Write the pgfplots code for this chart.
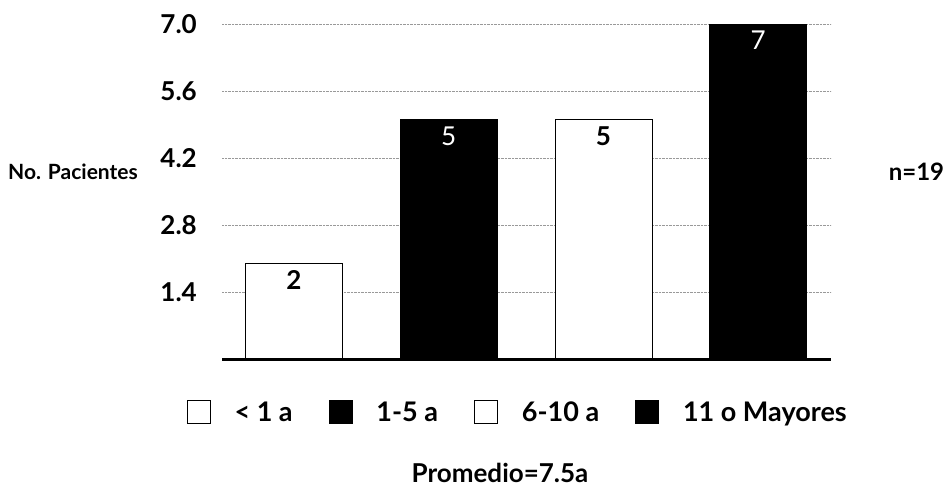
\documentclass[border=0pt]{standalone}
\usepackage{pgfplots}
\pgfplotsset{compat=1.18}
\usepackage{fontspec}
\setmainfont{Lato}

% patients per age group
\pgfplotstableread{
x y
0 2
}\groupA
\pgfplotstableread{
x y
1 5
}\groupB
\pgfplotstableread{
x y
2 5
}\groupC
\pgfplotstableread{
x y
3 7
}\groupD

\pgfplotsset{
  onebar/.style={ybar, bar width=97pt, bar shift=0pt, nodes near coords},
  whitebar/.style={onebar, fill=white, draw=black, line width=0.8pt,
    every node near coord/.append style={anchor=north, yshift=-3pt, text=black,
      font=\fontsize{26}{28}\selectfont\bfseries}},
  blackbar/.style={onebar, fill=black, draw=black, line width=0.8pt,
    every node near coord/.append style={anchor=north, yshift=-3pt, text=white,
      font=\fontsize{26}{28}\selectfont}},
}

\begin{document}
\begin{tikzpicture}[x=1pt,y=1pt]
\path[use as bounding box] (0,0) rectangle (952,488);
\begin{axis}[
  name=ax,
  at={(222pt,128.5pt)}, anchor=south west,
  scale only axis, width=609pt, height=335.5pt,
  xmin=-0.465, xmax=3.471, ymin=0, ymax=7,
  xtick=\empty,
  ytick={1.4,2.8,4.2,5.6,7.0},
  yticklabels={1.4,2.8,4.2,5.6,7.0},
  yticklabel style={font=\fontsize{26}{28}\selectfont\bfseries, inner sep=0pt, xshift=-25pt, anchor=east},
  major tick length=0pt,
  ymajorgrids, grid style={densely dotted, gray!80, line width=0.6pt},
  axis line style={draw=none},
  /pgf/number format/assume math mode=true,
  clip=false,
  legend columns=4,
  legend style={at={(0.484,-0.1565)}, anchor=center, draw=none, fill=none,
    font=\fontsize{27}{29}\selectfont\bfseries, inner sep=0pt,
    nodes={inner sep=0pt},
    /tikz/every odd column/.append style={column sep=24pt},
    /tikz/every even column/.append style={column sep=36pt}},
  legend image code/.code={\draw[#1, line width=0.8pt] (0pt,-11.5pt) rectangle (23pt,11.5pt);},
]
\addplot[whitebar] table {\groupA};
\addplot[blackbar] table {\groupB};
\addplot[whitebar] table {\groupC};
\addplot[blackbar] table {\groupD};
\legend{< 1 a, 1-5 a, 6-10 a, 11 o Mayores}
\end{axis}
% base line of the bars
\fill[black] ([yshift=-1.6pt]ax.south west) rectangle ([yshift=1.2pt]ax.south east);
\node[font=\fontsize{21}{23}\selectfont\bfseries] at (73,316) {No. Pacientes};
\node[font=\fontsize{24}{26}\selectfont\bfseries] at (916.5,316) {n=19};
\node[font=\fontsize{26}{28}\selectfont\bfseries, anchor=base] at (500,6) {Promedio=7.5a};
\end{tikzpicture}
\end{document}
